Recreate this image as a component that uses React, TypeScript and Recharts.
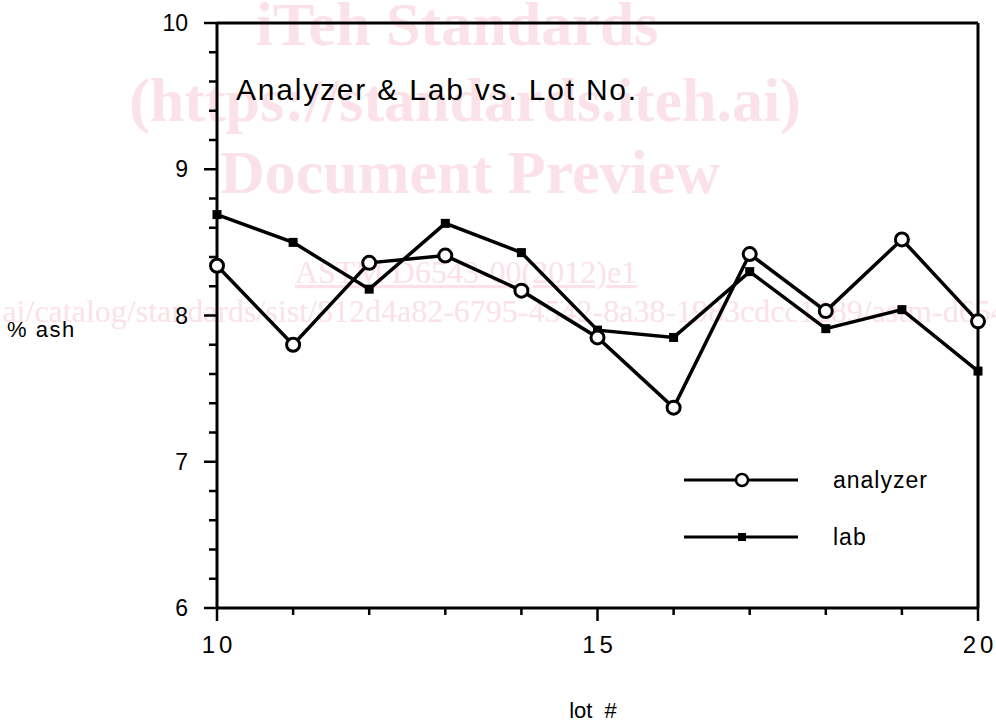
import React from 'react';
import { LineChart, Line, XAxis, YAxis, ReferenceLine, Legend } from 'recharts';

const lots = [10, 11, 12, 13, 14, 15, 16, 17, 18, 19, 20];
const analyzerValues = [8.34, 7.8, 8.36, 8.41, 8.17, 7.85, 7.37, 8.42, 8.03, 8.52, 7.96];
const labValues = [8.69, 8.5, 8.18, 8.63, 8.43, 7.9, 7.85, 8.3, 7.91, 8.04, 7.62];
const xTicks = [10, 11, 12, 13, 14, 15, 16, 17, 18, 19, 20];
const xLabelTicks = [10, 15, 20];
const yTicks = [6, 6.2, 6.4, 6.6, 6.8, 7, 7.2, 7.4, 7.6, 7.8, 8, 8.2, 8.4, 8.6, 8.8, 9, 9.2, 9.4, 9.6, 9.8, 10];
const seriesNames = ['analyzer', 'lab'];
const title = 'Analyzer & Lab vs. Lot No.';
const xTitle = 'lot  #';
const yTitle = '% ash';
const watermark = ['iTeh Standards', '(https://standards.iteh.ai)', 'Document Preview'];
const watermarkCode = 'ASTM D6543-00(2012)e1';
const watermarkUrlA = 'https://standards.iteh.ai/catalog/standards/sist/';
const watermarkUrlB = '812d4a82-6795-4542-8a38-1983cdcc1289/astm-d6543-002012e1';

const data = lots.map((lot, i) => ({ lot, analyzer: analyzerValues[i], lab: labValues[i] }));

const SANS = '"Liberation Sans", Arial, Helvetica, sans-serif';
const SERIF = '"Liberation Serif", "Times New Roman", serif';
const WM = '#fae2e8';

const XTick = (props: any) => {
  const { x, y, payload } = props;
  const v = payload.value;
  const major = xLabelTicks.includes(v);
  return (
    <g>
      <line x1={x} x2={x} y1={y} y2={y + (major ? 13 : 7)} stroke="#000" strokeWidth={2.5} />
      {major && (
        <text x={x + 2} y={y + 45} textAnchor="middle" fontFamily={SANS} fontSize={24} letterSpacing={4} fill="#000">
          {String(v)}
        </text>
      )}
    </g>
  );
};

const YTick = (props: any) => {
  const { x, y, payload } = props;
  const v = payload.value;
  const major = Math.abs(v - Math.round(v)) < 1e-6;
  return (
    <g>
      <line x1={x} x2={x - (major ? 13 : 8)} y1={y} y2={y} stroke="#000" strokeWidth={2.5} />
      {major && (
        <text x={x - 29} y={y + 8} textAnchor="end" fontFamily={SANS} fontSize={23} fill="#000">
          {String(Math.round(v))}
        </text>
      )}
    </g>
  );
};

const CircleDot = (props: any) => {
  const { cx, cy, index } = props;
  return <circle key={`a-${index}`} cx={cx} cy={cy} r={6.5} fill="#fff" stroke="#000" strokeWidth={3} />;
};

const SquareDot = (props: any) => {
  const { cx, cy, index } = props;
  return <rect key={`l-${index}`} x={cx - 4.5} y={cy - 4.5} width={9} height={9} fill="#000" />;
};

const LegendContent = () => (
  <svg width={260} height={100} style={{ display: 'block' }}>
    <line x1={4} x2={118} y1={20} y2={20} stroke="#000" strokeWidth={3} />
    <circle cx={62} cy={20} r={6} fill="#fff" stroke="#000" strokeWidth={2.5} />
    <text x={153} y={28} fontFamily={SANS} fontSize={23} letterSpacing={1} fill="#000">{seriesNames[0]}</text>
    <line x1={4} x2={118} y1={77} y2={77} stroke="#000" strokeWidth={3} />
    <rect x={58} y={73} width={8} height={8} fill="#000" />
    <text x={153} y={85} fontFamily={SANS} fontSize={23} letterSpacing={1} fill="#000">{seriesNames[1]}</text>
  </svg>
);

export default function App() {
  return (
    <div style={{ position: 'absolute', left: 0, top: 0, width: 996, height: 722, background: '#fff' }}>
      <svg width={996} height={722} style={{ position: 'absolute', left: 0, top: 0 }}>
        <g fontFamily={SERIF} fill={WM} fontWeight="bold" fontSize={62}>
          <text x={457} y={45} textAnchor="middle">{watermark[0]}</text>
          <text x={465} y={121} textAnchor="middle">{watermark[1]}</text>
          <text x={470} y={193} textAnchor="middle">{watermark[2]}</text>
        </g>
        <g fontFamily={SERIF} fill={WM} fontSize={32}>
          <text x={466} y={283} textAnchor="middle" textDecoration="underline">{watermarkCode}</text>
          <text x={317} y={322} textAnchor="end">{watermarkUrlA}</text>
          <text x={317} y={322} textAnchor="start">{watermarkUrlB}</text>
        </g>
      </svg>
      <div style={{ position: 'absolute', left: 0, top: 0 }}>
        <LineChart width={996} height={722} data={data} margin={{ top: 23, right: 18, bottom: 54, left: 137 }}>
          <XAxis
            type="number"
            dataKey="lot"
            domain={[10, 20]}
            ticks={xTicks}
            interval={0}
            tickSize={0}
            tickMargin={0}
            tickLine={false}
            tick={<XTick />}
            axisLine={{ stroke: '#000', strokeWidth: 3 }}
            height={60}
            label={{
              content: () => (
                <text x={593} y={718} textAnchor="middle" fontFamily={SANS} fontSize={22} fill="#000" style={{ whiteSpace: 'pre' }}>{xTitle}</text>
              ),
            }}
          />
          <YAxis
            type="number"
            domain={[6, 10]}
            ticks={yTicks}
            interval={0}
            tickSize={0}
            tickMargin={0}
            tickLine={false}
            tick={<YTick />}
            axisLine={{ stroke: '#000', strokeWidth: 3 }}
            width={80}
            label={{
              content: () => (
                <text x={7} y={337} fontFamily={SANS} fontSize={22} letterSpacing={1.5} fill="#000">{yTitle}</text>
              ),
            }}
          />
          <ReferenceLine y={10} stroke="#000" strokeWidth={3} />
          <ReferenceLine x={20} stroke="#000" strokeWidth={3} />
          <Line
            type="linear"
            dataKey="lab"
            name={seriesNames[1]}
            stroke="#000"
            strokeWidth={3.5}
            dot={SquareDot}
            activeDot={false}
            isAnimationActive={false}
          />
          <Line
            type="linear"
            dataKey="analyzer"
            name={seriesNames[0]}
            stroke="#000"
            strokeWidth={3.5}
            dot={CircleDot}
            activeDot={false}
            isAnimationActive={false}
          />
          <Legend
            layout="horizontal"
            verticalAlign="middle"
            align="center"
            content={<LegendContent />}
            wrapperStyle={{ position: 'absolute', left: 680, top: 460, width: 260, height: 100 }}
          />
          <text x={236} y={100} fontFamily={SANS} fontSize={30} letterSpacing={1.8} fill="#000">{title}</text>
        </LineChart>
      </div>
    </div>
  );
}
